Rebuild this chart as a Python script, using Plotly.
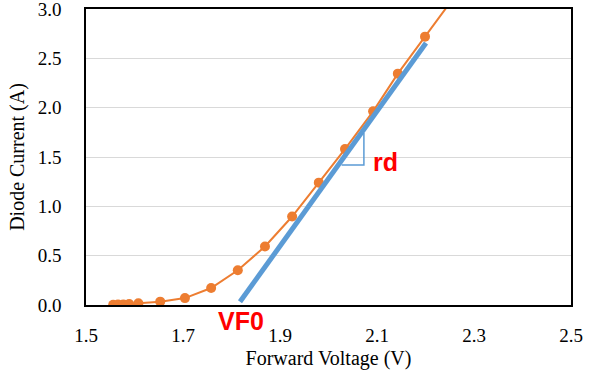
import plotly.graph_objects as go

# Measured diode I-V points
voltage = [1.556, 1.566, 1.577, 1.589, 1.608, 1.653, 1.704, 1.758, 1.813, 1.869,
           1.925, 1.980, 2.034, 2.092, 2.143, 2.199, 2.256]
current = [0.002, 0.004, 0.006, 0.010, 0.017, 0.034, 0.070, 0.172, 0.352, 0.593,
           0.897, 1.240, 1.580, 1.963, 2.345, 2.720, 3.10]

# Linear (piecewise) model line
fit_v = [1.8175, 2.201]
fit_i = [0.033, 2.655]

# Slope triangle
tri_v = [2.027, 2.073, 2.073]
tri_i = [1.419, 1.419, 1.743]

x_ticks = [1.5, 1.7, 1.9, 2.1, 2.3, 2.5]
y_ticks = [0.0, 0.5, 1.0, 1.5, 2.0, 2.5, 3.0]

orange = "#ED7D31"
blue = "#5B9BD5"

fig = go.Figure()
fig.add_trace(go.Scatter(x=voltage, y=current, mode="lines+markers",
                         line=dict(color=orange, width=2),
                         marker=dict(color=orange, size=10),
                         showlegend=False))
fig.add_trace(go.Scatter(x=fit_v, y=fit_i, mode="lines",
                         line=dict(color=blue, width=5),
                         showlegend=False))
fig.add_trace(go.Scatter(x=tri_v, y=tri_i, mode="lines",
                         line=dict(color=blue, width=1.5),
                         showlegend=False))

fig.add_annotation(x=2.1165, y=1.449, text="<b>rd</b>", showarrow=False,
                   font=dict(family="Liberation Sans", size=25, color="#FF0000"))
fig.add_annotation(x=1.8196, xref="x", y=-0.054, yref="paper", yanchor="middle",
                   text="<b>VF0</b>", showarrow=False,
                   font=dict(family="Liberation Sans", size=25, color="#FF0000"))

fig.update_layout(
    width=602, height=375,
    margin=dict(l=86, r=31, t=9, b=70),
    paper_bgcolor="white", plot_bgcolor="white",
    font=dict(family="Liberation Serif", size=19, color="#000000"),
)
fig.update_xaxes(
    range=[1.5, 2.5], tickvals=x_ticks, ticktext=[f"{v:.1f}" for v in x_ticks],
    showgrid=False, zeroline=False, showline=True, linecolor="black", linewidth=1.5,
    mirror=True, ticks="", ticklabelstandoff=12, automargin=False,
    ticklabeloverflow="allow",
    title=dict(text="Forward Voltage (V)", font=dict(size=20), standoff=6),
)
fig.update_yaxes(
    range=[0, 3.0], tickvals=y_ticks, ticktext=[f"{v:.1f}" for v in y_ticks],
    showgrid=True, gridcolor="#D9D9D9", gridwidth=1, zeroline=False,
    showline=True, linecolor="black", linewidth=1.5, mirror=True,
    ticks="", ticklabelstandoff=19, automargin=False,
    ticklabeloverflow="allow",
    title=dict(text="Diode Current (A)", font=dict(size=20), standoff=8),
)

fig.write_html("out.html", config={"displayModeBar": False},
               post_script="document.body.style.margin='0px';")
